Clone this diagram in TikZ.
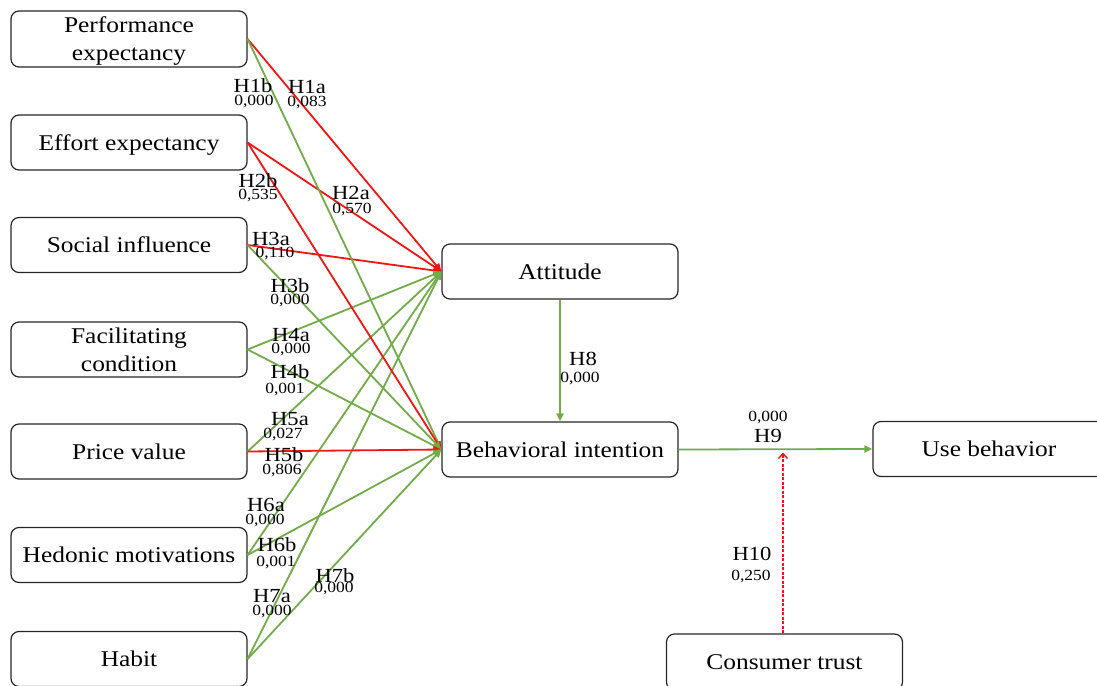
\documentclass[tikz,border=0pt]{standalone}
\usepackage{fontspec}
\setmainfont{Liberation Serif}[FakeStretch=1.13]
\usetikzlibrary{arrows.meta}
\definecolor{mygreen}{RGB}{112,173,71}
\definecolor{myred}{RGB}{245,20,20}
\begin{document}
\begin{tikzpicture}[x=1pt,y=-1pt,
  box/.style={draw=black!85, line width=1.2pt, rounded corners=8pt, minimum width=236pt, minimum height=55pt, inner sep=0pt, text depth=0pt, align=center, font=\fontsize{22.5}{28}\selectfont},
  tipa/.style={-{Triangle[length=8pt,width=7pt]}},
  gline/.style={draw=mygreen, line width=1.8pt, tipa},
  rline/.style={draw=myred, line width=1.8pt, tipa},
  hl/.style={font=\fontsize{20}{20}\selectfont, inner sep=0pt},
  pl/.style={font=\fontsize{15.5}{15.5}\selectfont, inner sep=0pt}
]
\useasboundingbox (0,0) rectangle (1097,685);
\clip (0,0) rectangle (1097,685);
% left column
\node[box, minimum height=56pt] (pe) at (129,39) {Performance\\expectancy};
\node[box] (ee) at (129,142.5) {Effort expectancy};
\node[box] (si) at (129,245) {Social influence};
\node[box] (fc) at (129,349.5) {Facilitating\\condition};
\node[box] (pv) at (129,451.5) {Price value};
\node[box] (hm) at (129,555) {Hedonic motivations};
\node[box] (hb) at (129,659) {Habit};
% middle
\node[box] (att) at (560,271.5) {Attitude};
\node[box] (bi) at (560,449.5) {Behavioral intention};
\node[box, minimum width=232pt] (ub) at (989,449) {Use behavior};
\node[box, minimum height=56pt] (ct) at (784.5,662) {Consumer trust};
% paths to Attitude
\draw[rline] (pe.east) -- (att.west);
\draw[rline] (ee.east) -- (att.west);
\draw[rline] (si.east) -- (att.west);
\draw[gline] (fc.east) -- (att.west);
\draw[gline] (pv.east) -- (att.west);
\draw[gline] (hm.east) -- (att.west);
\draw[gline] (hb.east) -- (att.west);
% paths to Behavioral intention
\draw[gline] (pe.east) -- (bi.west);
\draw[rline] (ee.east) -- (bi.west);
\draw[gline] (si.east) -- (bi.west);
\draw[gline] (fc.east) -- (bi.west);
\draw[rline] (pv.east) -- (bi.west);
\draw[gline] (hm.east) -- (bi.west);
\draw[gline] (hb.east) -- (bi.west);
% other paths
\draw[gline] (att.south) -- (bi.north);
\draw[gline] (bi.east) -- (ub.west);
\coordinate (mod) at ([yshift=-3pt]ct.north |- bi.east);
\draw[draw=myred, line width=1.4pt, dashed, dash pattern=on 3pt off 1.5pt, -{Straight Barb[length=5pt,width=9pt]}] ([xshift=-1.5pt]ct.north) -- ([xshift=-1.5pt]mod);
% labels
\node[hl] (l1b) at (253,86) {H1b};   \node[pl] (p1b) at (254,102) {0,000};
\node[hl] (l1a) at (307,87) {H1a};   \node[pl] (p1a) at (307,103) {0,083};
\node[hl] (l2b) at (258,181) {H2b};  \node[pl] (p2b) at (258,196) {0,535};
\node[hl] (l2a) at (351,193) {H2a};  \node[pl] (p2a) at (352,210) {0,570};
\node[hl] (l3a) at (271,239) {H3a};  \node[pl] (p3a) at (275,254) {0,110};
\node[hl] (l3b) at (290,286) {H3b};  \node[pl] (p3b) at (290,301) {0,000};
\node[hl] (l4a) at (291,335) {H4a};  \node[pl] (p4a) at (291,350) {0,000};
\node[hl] (l4b) at (290,372) {H4b};  \node[pl] (p4b) at (285,390) {0,001};
\node[hl] (l5a) at (290,419) {H5a};  \node[pl] (p5a) at (283,435) {0,027};
\node[hl] (l5b) at (284,455) {H5b};  \node[pl] (p5b) at (282,471) {0,806};
\node[hl] (l6a) at (266,505) {H6a};  \node[pl] (p6a) at (265,521) {0,000};
\node[hl] (l6b) at (277,545) {H6b};  \node[pl] (p6b) at (276,563) {0,001};
\node[hl] (l7b) at (335,576) {H7b};  \node[pl] (p7b) at (334,589) {0,000};
\node[hl] (l7a) at (272,596) {H7a};  \node[pl] (p7a) at (272,612) {0,000};
\node[hl] (l8) at (583,359) {H8};    \node[pl] (p8) at (580,379) {0,000};
\node[pl] (p9) at (768,418) {0,000}; \node[hl] (l9) at (768,436) {H9};
\node[hl] (l10) at (752,554) {H10};  \node[pl] (p10) at (751,577) {0,250};
\end{tikzpicture}
\end{document}
